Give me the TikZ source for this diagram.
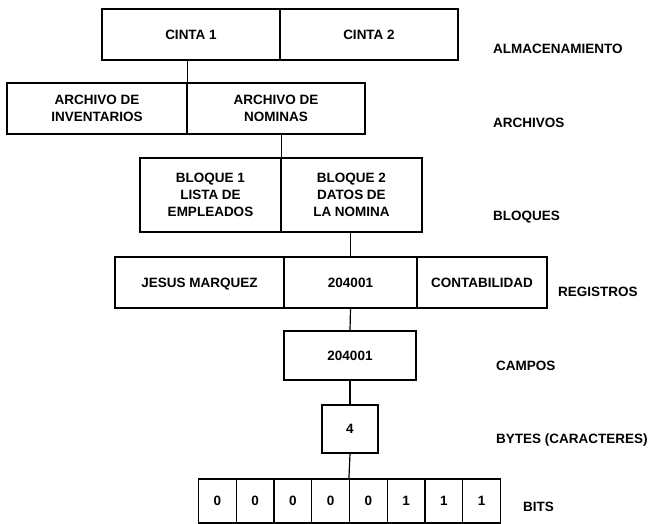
\documentclass[tikz,border=0pt]{standalone}
\usepackage{fontspec}
\setmainfont{Liberation Sans}
\begin{document}
\begin{tikzpicture}[x=1pt, y=-1pt,
        every node/.style={font=\bfseries\fontsize{13.5}{17}\selectfont},
        celda/.style={draw, line width=1.2pt, inner sep=0pt, align=center, text depth=0pt},
        nivel/.style={anchor=west, inner sep=0pt}]
        \useasboundingbox (0,0) rectangle (659,524);

        % Almacenamiento
        \node[celda, minimum width=178pt, minimum height=51pt] (cinta1) at (191, 34.5) {CINTA 1};
        \node[celda, minimum width=178pt, minimum height=51pt] (cinta2) at (369, 34.5) {CINTA 2};

        % Archivos
        \node[celda, minimum width=180pt, minimum height=51pt] (inv) at (97, 108.5) {ARCHIVO DE\\INVENTARIOS};
        \node[celda, minimum width=178pt, minimum height=51pt] (nom) at (276, 108.5) {ARCHIVO DE\\NOMINAS};

        % Bloques
        \node[celda, minimum width=141pt, minimum height=74pt] (bloque1) at (210.5, 195) {BLOQUE 1\\LISTA DE\\EMPLEADOS};
        \node[celda, minimum width=141pt, minimum height=74pt] (bloque2) at (351.5, 195) {BLOQUE 2\\DATOS DE\\LA NOMINA};

        % Registros
        \node[celda, minimum width=169pt, minimum height=51pt] (nombre) at (199.5, 282.5) {JESUS MARQUEZ};
        \node[celda, minimum width=133pt, minimum height=51pt] (clave) at (350.5, 282.5) {204001};
        \node[celda, minimum width=130pt, minimum height=51pt] (depto) at (482, 282.5) {CONTABILIDAD};

        % Campo, byte y bits
        \node[celda, minimum width=132pt, minimum height=49pt] (campo) at (350, 355.5) {204001};
        \node[celda, minimum width=56pt, minimum height=48pt] (byte) at (350, 429) {4};
        \foreach \v [count=\i from 0] in {0,0,0,0,0,1,1,1}
            \node[celda, minimum width=37.75pt, minimum height=44pt] (b\i) at ({217.4+37.75*\i}, 501) {\v};

        % Lineas de union
        \draw[line width=1.2pt] (inv.north east |- cinta1.south) -- (inv.north east);
        \draw[line width=1.2pt] (bloque1.north east |- nom.south) -- (bloque1.north east);
        \draw[line width=1.2pt] (clave.north |- bloque2.south) -- (clave.north);
        \draw[line width=1.2pt] (clave.south) -- (campo.north);
        \draw[line width=1.2pt] (campo.south) -- (byte.north);
        \draw[line width=1.2pt] (byte.south) -- (b4.north west);

        % Niveles
        \node[nivel] (alm) at (493, 49) {ALMACENAMIENTO};
        \node[nivel] (arch) at (493, 123) {ARCHIVOS};
        \node[nivel] (bloq) at (493, 217) {BLOQUES};
        \node[nivel] (reg) at (558, 292) {REGISTROS};
        \node[nivel] (camp) at (496, 366) {CAMPOS};
        \node[nivel] (byt) at (496, 440) {BYTES (CARACTERES)};
        \node[nivel] (bits) at (523, 507) {BITS};
    \end{tikzpicture}
\end{document}
